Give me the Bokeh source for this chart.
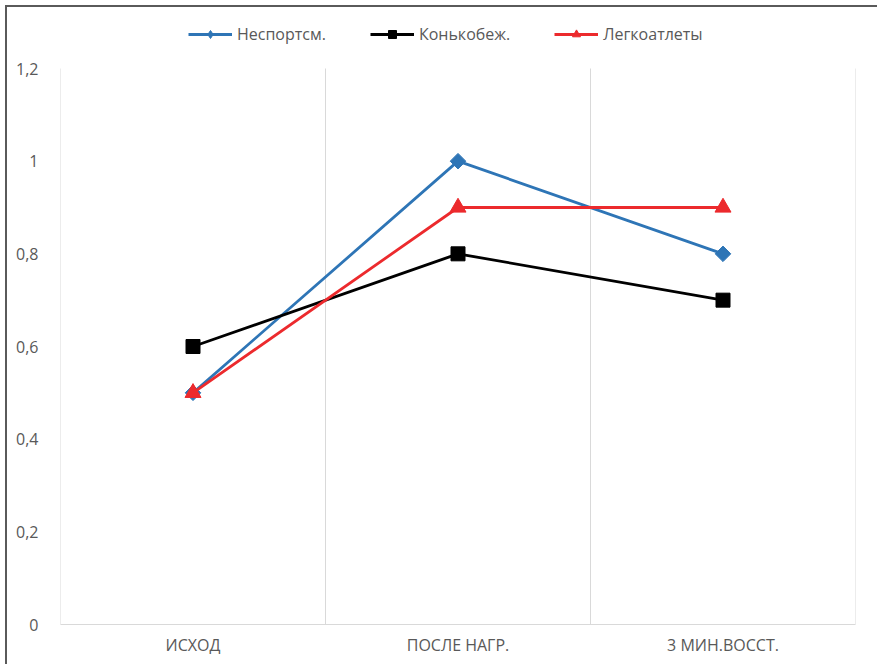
import math
from bokeh.plotting import figure
from bokeh.models import FixedTicker, Legend, LegendItem, Range1d
from bokeh.embed import file_html
from bokeh.resources import INLINE

categories = ["ИСХОД", "ПОСЛЕ НАГР.", "3 МИН.ВОССТ."]
nesport = [0.5, 1.0, 0.8]
konkobezh = [0.6, 0.8, 0.7]
legkoatl = [0.5, 0.9, 0.9]
series_names = ["Неспортсм.", "Конькобеж.", "Легкоатлеты"]
y_ticks = [0, 0.2, 0.4, 0.6, 0.8, 1.0, 1.2]
y_tick_labels = ["0", "0,2", "0,4", "0,6", "0,8", "1", "1,2"]

FONT = "Open Sans"
TXT = "#595959"
GRID = "#d9d9d9"

n = len(categories)
xs = [i + 0.5 for i in range(n)]
y_top = y_ticks[-1]
FRAME_H = 610
PLOT_H = 556  # pixel height from 0 to y_top
y_max = y_top * FRAME_H / PLOT_H  # headroom above the axis for the legend

p = figure(frame_width=795, frame_height=FRAME_H, output_backend="svg", toolbar_location=None,
           x_range=Range1d(0, n), y_range=Range1d(0, y_max),
           min_border_left=53, min_border_right=22, min_border_top=7, min_border_bottom=40)
p.margin = (5, 0, 0, 5)
p.styles = {"border-left": "2px solid #5a5a5a", "border-top": "2px solid #5a5a5a"}
p.outline_line_color = None
p.background_fill_color = "white"
p.border_fill_color = "white"

# axes
p.xaxis.ticker = FixedTicker(ticks=xs)
p.xaxis.major_label_overrides = {x: c for x, c in zip(xs, categories)}
p.xaxis.axis_line_color = GRID
p.xaxis.axis_line_width = 1
p.xaxis.major_tick_line_color = None
p.xaxis.minor_tick_line_color = None
p.xaxis.major_label_text_font = FONT
p.xaxis.major_label_text_font_size = "16px"
p.xaxis.major_label_text_color = TXT
p.xaxis.major_label_standoff = 3

p.yaxis.ticker = FixedTicker(ticks=y_ticks)
p.yaxis.major_label_overrides = {t: l for t, l in zip(y_ticks, y_tick_labels)}
p.yaxis.axis_line_color = None
p.yaxis.major_tick_line_color = None
p.yaxis.minor_tick_line_color = None
p.yaxis.major_label_text_font = FONT
p.yaxis.major_label_text_font_size = "16px"
p.yaxis.major_label_text_color = TXT
p.yaxis.major_label_standoff = 16

p.ygrid.grid_line_color = None
p.xgrid.grid_line_color = None
# vertical category-boundary grid lines, from 0 up to the top tick
bounds = list(range(n + 1))
p.segment(x0=bounds, y0=[0] * len(bounds), x1=bounds, y1=[y_top] * len(bounds),
          line_color=GRID, line_width=1)

colors = ["#2e75b6", "#000000", "#ec2a2d"]
markers = ["square", "square", "triangle"]
legend_markers = ["diamond", "square", "triangle"]
sizes = [11, 14, 16]
legend_sizes = [12, 11, 13]
angles = [math.pi / 4, 0, 0]
items = []
for name, ys, c, m, lm, s, ls, a in zip(series_names, [nesport, konkobezh, legkoatl], colors,
                                        markers, legend_markers, sizes, legend_sizes, angles):
    r1 = p.line(xs, ys, line_color=c, line_width=2.8)
    # small marker used for the legend swatch (hidden under the main marker)
    r0 = p.scatter(xs, ys, marker=lm, size=ls, fill_color=c, line_color=c)
    r2 = p.scatter(xs, ys, marker=m, size=s, angle=a, fill_color=c, line_color=c)
    items.append(LegendItem(label=name, renderers=[r1, r0]))

legend = Legend(items=items, orientation="horizontal", location=(128, 579))
legend.border_line_color = None
legend.background_fill_alpha = 0
legend.label_text_font = FONT
legend.label_text_font_size = "16px"
legend.label_text_color = TXT
legend.glyph_width = 44
legend.glyph_height = 20
legend.spacing = 44
legend.label_standoff = 5
legend.margin = 0
legend.padding = 5
p.add_layout(legend, "center")

open("out.html", "w").write(file_html(p, INLINE))
